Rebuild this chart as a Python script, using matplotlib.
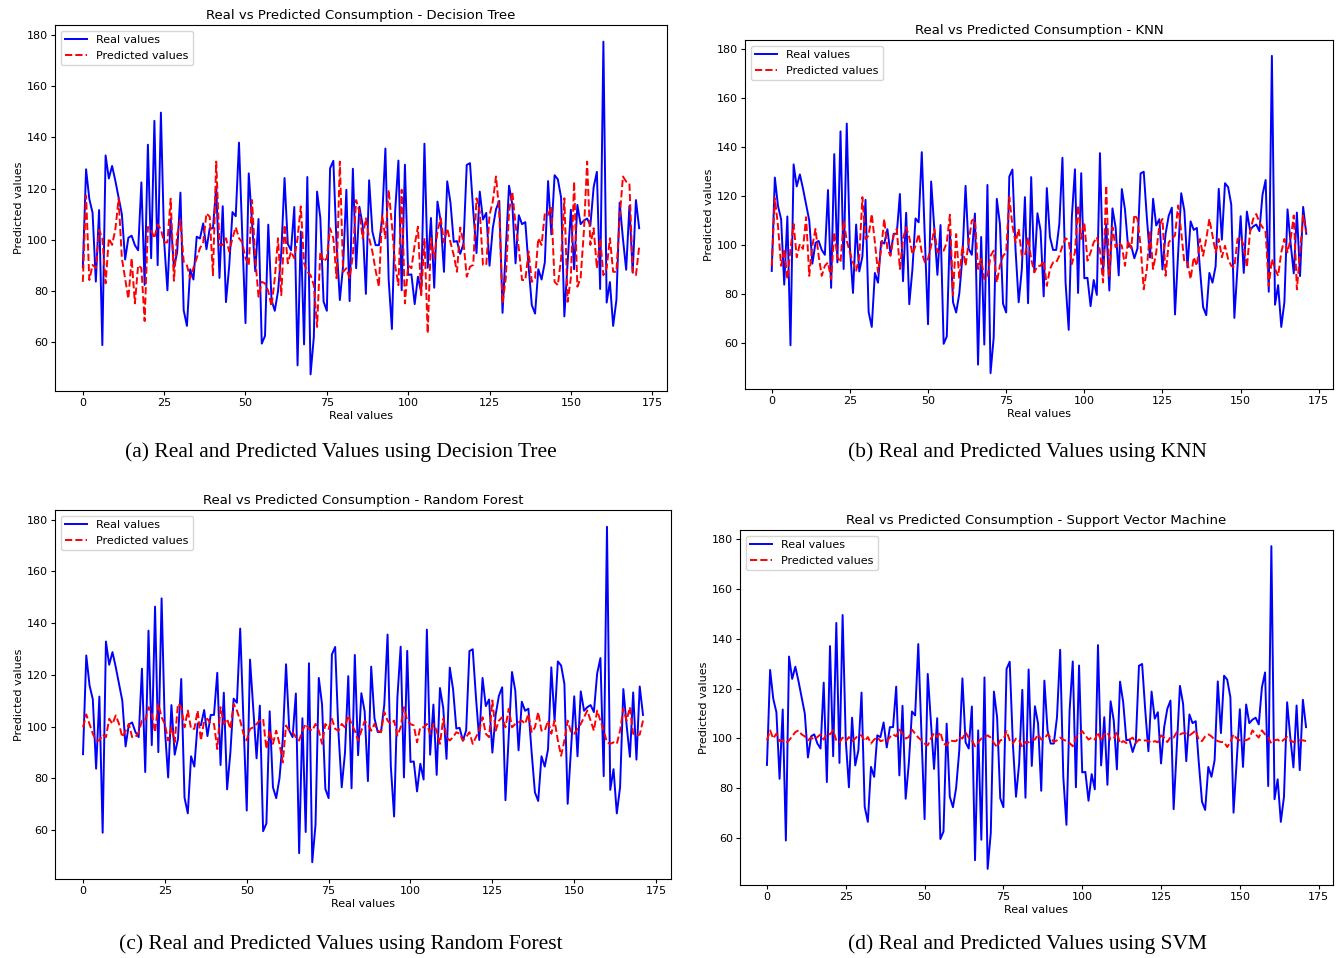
#=====================
# Imports
#=====================
import matplotlib
matplotlib.use('Agg')
import matplotlib.pyplot as plt
import numpy as np

#=====================
# Data
#=====================
real = [89.3, 127.5, 115.9, 110.5, 83.7, 111.6, 58.9, 132.9, 123.9, 128.8,
        123, 116.5, 110, 92.3, 100.8, 101.6, 97.9, 95.9, 122.4, 82.4,
        137.1, 92.8, 146.4, 90.1, 149.6, 99.2, 80.3, 108.3, 89.1, 95.2,
        118.4, 72.5, 66.4, 88.5, 84.5, 101.2, 100.5, 106.4, 96.3, 104.5,
        104.5, 120.8, 85.1, 113.1, 75.7, 89.9, 110.8, 109.2, 137.9, 102,
        67.5, 125.9, 106.8, 87.7, 108.1, 59.5, 62.5, 105.9, 76.5, 72.3,
        80, 95, 124.1, 98.4, 95.9, 112.8, 51, 103.2, 59.2, 124.5,
        47.5, 62, 118.8, 108.5, 75.9, 72.3, 127.9, 130.8, 97.9, 76.5,
        89.9, 119.5, 76.1, 127.7, 88.9, 112.9, 105.9, 78.9, 123.2, 103.2,
        97.9, 97.9, 108.5, 135.6, 84.5, 65.2, 111.2, 130.9, 80.3, 129.3,
        86.3, 86.5, 74.9, 85.6, 79.5, 137.5, 89.1, 108.5, 81.3, 114.9,
        107.2, 87.5, 122.8, 114.5, 99.2, 99.5, 94.5, 98.5, 129.2, 129.9,
        111.2, 94.8, 118.8, 107.9, 110.5, 89.9, 104.5, 111.9, 115.2, 71.5,
        96.5, 121.1, 113.9, 90.8, 109.6, 106.1, 106.9, 89.9, 74.5, 71.2,
        88.5, 84.5, 91.2, 122.9, 102.1, 125.2, 123.6, 116.5, 70.1, 91.2,
        111.7, 88.5, 113.6, 106.1, 107.5, 108.3, 105.6, 120.5, 126.5, 80.8,
        177.3, 75.5, 83.5, 66.4, 76.5, 114.5, 100.5, 88.3, 113.2, 87.2,
        115.5, 104.5]

pred_tree = [83.6, 117.2, 84.3, 90.2, 89, 103.8, 100.6, 83, 100.6, 98,
             104, 116, 92.8, 85, 77, 92.8, 75.2, 90, 89, 68.3,
             105, 103.8, 100.6, 106, 104, 99, 99, 116, 84, 102,
             107.7, 91.5, 90, 85, 89, 92.8, 96.7, 99, 110.3, 109,
             86.2, 130.5, 98, 98, 100.6, 95.4, 100.6, 104.9, 100.6, 99,
             92.8, 90, 115.5, 92.8, 77.8, 83.6, 83, 80, 74, 85,
             100.6, 78.4, 105.8, 90.8, 95.4, 92.8, 100.6, 113, 90.8, 87.5,
             86.2, 82.3, 66, 95.4, 91.5, 92.8, 104.5, 100.6, 85, 130.5,
             87.5, 88.9, 85, 94, 115.5, 111, 100.6, 108.4, 100.6, 95.4,
             88, 81.7, 109.7, 100.6, 119.5, 105.8, 90, 82.3, 119.5, 75.2,
             90, 88.9, 98, 105.1, 78.4, 100.6, 63.5, 100.6, 92.8, 103.2,
             108.4, 99, 104.5, 99, 94, 87.5, 104.8, 99, 85.6, 89.5,
             90.2, 116.2, 111, 90.2, 90.2, 109.7, 114.9, 124.7, 111, 75.2,
             85, 111, 118.8, 105.8, 96.7, 84.3, 84.3, 95.4, 83.6, 85,
             100.6, 98, 110.3, 109.7, 113, 83.6, 82.3, 92.8, 116.2, 75.8,
             85, 122.7, 81.7, 85, 103.2, 130.5, 98, 104.5, 88.9, 100.6,
             86.2, 88.9, 100.6, 87.5, 87.5, 108.4, 124.7, 122.7, 122, 87.5,
             86.2, 97.3]

pred_knn = [91.4, 119.1, 107.9, 91.4, 98.3, 86, 98.3, 108.5, 94.9, 100.3,
            98.3, 111.3, 87.3, 99.6, 106.5, 95.5, 87.3, 91.4, 92.8, 86,
            105.1, 94.9, 92.8, 109.9, 101.7, 96.9, 92.8, 89.4, 94.9, 119.5,
            102.4, 103.8, 112.6, 101, 88.7, 98.3, 110.6, 98.3, 95.5, 103.8,
            106.5, 90.1, 102.4, 107.2, 103.1, 96.2, 99.6, 104.4, 96.9, 92.8,
            94.2, 99.6, 106.5, 96.9, 97.6, 97.6, 101, 112.3, 79.4, 104.4,
            86, 99.6, 91.4, 101, 109.9, 110.6, 90.1, 94.2, 86, 86.6,
            95.5, 97.6, 84.6, 91.4, 95.5, 96.9, 119.5, 107.9, 101, 106.5,
            95.5, 95.5, 103.1, 94.2, 88.7, 91.4, 91.4, 93.5, 83.2, 90.1,
            92.8, 92.8, 95.5, 99.6, 102.7, 101.7, 92.1, 96.9, 116.1, 102.4,
            109.2, 93.5, 96.9, 101, 103.1, 97.6, 84.6, 124.3, 87.3, 107.2,
            99, 101, 99.6, 91.4, 101.7, 98.6, 112.3, 110.6, 99.6, 81.8,
            90.1, 105.8, 90.1, 96.9, 107.9, 110.6, 87.3, 101, 102.4, 103.8,
            116.1, 105.1, 92.8, 92.8, 86, 94.9, 91.4, 102.4, 95.5, 102.4,
            110.6, 103.8, 96.9, 102.4, 94.9, 99.6, 94.2, 91.4, 90.8, 102.4,
            103.1, 99.6, 90.8, 105.1, 110.6, 112.6, 109.2, 107.2, 105.1, 83.2,
            94.2, 90.1, 87.3, 96.9, 102.4, 96.9, 102.4, 112, 81.8, 96.9,
            112, 105.1]

pred_rf = [99.7, 104.7, 101, 97.2, 94.6, 94.6, 96.9, 95.9, 103, 101,
           104.3, 101, 95.9, 98.4, 101, 95.9, 95.9, 97.8, 102.3, 102.3,
           107.5, 104.9, 97.8, 108.8, 103.6, 101, 94.6, 99.7, 93.9, 108.8,
           107.5, 99.7, 106.2, 99.1, 99.1, 106.2, 94.6, 102.3, 103, 101,
           101, 91.3, 107.5, 101, 103, 99.1, 108.8, 106.2, 102.3, 97.2,
           94.6, 99.1, 99.7, 101, 102.3, 103, 91.3, 98.4, 93.3, 98.4,
           93.3, 86.1, 100.4, 98.4, 97.8, 95.9, 94.6, 98.4, 101, 99.1,
           98.4, 101, 98.4, 93.3, 101, 99.1, 103, 99.1, 98.4, 101,
           99.7, 104.3, 101, 98.4, 94.6, 98.4, 102.1, 101, 98.4, 101,
           98.4, 97.8, 105.6, 102.3, 101, 102.3, 96.5, 99.7, 107.5, 102.3,
           101, 100.4, 93.9, 99.7, 99.7, 101, 97.2, 101, 98.4, 93.3,
           103, 95.9, 94.6, 95.9, 97.8, 97.2, 94.6, 95.9, 97.8, 93.3,
           95.9, 98.4, 103.6, 97.2, 95.9, 110.1, 98.4, 102.3, 103.6, 99.7,
           106.9, 99.7, 101, 101.6, 102.3, 101, 104.9, 97.8, 99.7, 105.6,
           98.4, 98.4, 102.3, 97.2, 102.3, 94.6, 88.7, 94.6, 102.3, 97.8,
           97.2, 99.1, 101, 103.6, 106.2, 102.3, 98.4, 106.2, 102.3, 98.4,
           93.9, 93.3, 93.9, 93.3, 98.4, 106.9, 102.3, 107.5, 97.2, 96.5,
           96.9, 102.3]

pred_svm = [99.2, 103.2, 99.9, 101.9, 98.9, 99.2, 98.1, 99.2, 100.8, 102.5,
            103.2, 101.6, 100.8, 99.2, 100.3, 99.5, 100.5, 101.6, 99.5, 101.9,
            101.6, 103.2, 99.2, 98.4, 100.3, 98.9, 100.5, 98.9, 99.9, 101.3,
            101.2, 98.9, 100.5, 97.9, 99.5, 100.5, 98.9, 99.2, 98.7, 100.5,
            101.6, 100.8, 103.5, 101.9, 99.9, 100.5, 103.5, 101.9, 100.3, 99.2,
            97.9, 97.2, 99.9, 102.1, 100.5, 102.5, 97.9, 97.2, 99.2, 98.9,
            98.9, 100.5, 99.9, 102.4, 100.3, 99.2, 96.8, 98.4, 99.9, 100.5,
            101.2, 100.3, 98.1, 96.5, 99.2, 99.5, 102.9, 99.2, 97.9, 99.9,
            99.2, 96.5, 98.5, 98.4, 99.5, 99.5, 101.6, 99.5, 99.9, 101.6,
            100.3, 98.5, 99.2, 100.3, 99.5, 98.9, 98.1, 96.8, 100.5, 101.2,
            102.9, 101.2, 99.5, 100.3, 99.5, 102.5, 98.9, 101.6, 102.5, 99.5,
            99.9, 102.5, 97.9, 98.9, 98.1, 99.5, 100.3, 98.1, 99.5, 98.9,
            99.2, 98.9, 98.1, 98.9, 98.4, 101.2, 100.3, 98.5, 100.5, 100.3,
            102.5, 101.6, 102.1, 101.9, 101.2, 102.1, 103.2, 99.2, 98.9, 100.8,
            101.6, 100.8, 99.5, 98.9, 98.5, 98.5, 96.5, 98.5, 101.6, 99.9,
            99.2, 99.5, 99.2, 99.9, 103.2, 101.6, 100.3, 103.2, 101.6, 100.3,
            97.9, 99.2, 99.5, 98.5, 99.5, 100.5, 99.2, 98.5, 98.9, 99.2,
            99.2, 98.9]

models = ['Decision Tree', 'KNN', 'Random Forest', 'Support Vector Machine']
captions = ['(a) Real and Predicted Values using Decision Tree',
            '(b) Real and Predicted Values using KNN',
            '(c) Real and Predicted Values using Random Forest',
            '(d) Real and Predicted Values using SVM']
predictions = [pred_tree, pred_knn, pred_rf, pred_svm]

#=====================
# Layout
#=====================
W, H = 1341, 958
fig = plt.figure(figsize=(W / 100, H / 100), dpi=100)

# axes boxes in pixels: left, top, right, bottom
boxes = [(55, 25, 667, 391),
         (745, 40, 1333, 389),
         (55, 510, 671, 879),
         (740, 530, 1333, 885)]
caption_pos = [(341, 452), (1027, 452), (341, 944), (1027, 944)]

x = np.arange(len(real))

for box, model, pred, cap, cpos in zip(boxes, models, predictions, captions, caption_pos):
    l, t, r, b = box
    ax = fig.add_axes([l / W, 1 - b / H, (r - l) / W, (b - t) / H])
    ax.plot(x, real, color='blue', lw=1.4, label='Real values')
    ax.plot(x, pred, 'r--', lw=1.4, label='Predicted values')
    ax.set_title('Real vs Predicted Consumption - ' + model, fontsize=9.5, pad=4)
    ax.set_xlabel('Real values', fontsize=8, labelpad=2)
    ax.set_ylabel('Predicted values', fontsize=8, labelpad=2)
    ax.set_xticks([0, 25, 50, 75, 100, 125, 150, 175])
    ax.set_yticks([60, 80, 100, 120, 140, 160, 180])
    ax.tick_params(labelsize=8, length=3, pad=2)
    ax.legend(loc='upper left', fontsize=8)
    fig.text(cpos[0] / W, 1 - cpos[1] / H, cap, ha='center', va='center',
             family='Liberation Serif', fontsize=15.5)

plt.savefig('out.png', dpi=100)
